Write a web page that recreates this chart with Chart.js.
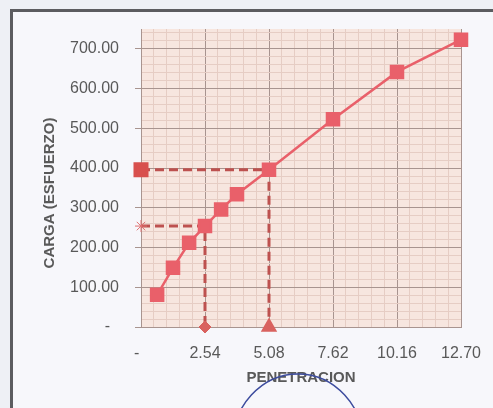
<!DOCTYPE html>
<html>
<head>
<meta charset="utf-8">
<script src="https://cdn.jsdelivr.net/npm/chart.js@4.4.0/dist/chart.umd.min.js"></script>
<style>
    html, body { margin: 0; padding: 0; background: #eef0f5; }
    #wrap { position: relative; width: 493px; height: 408px; overflow: hidden; }
    #frame { position: absolute; left: 10px; top: 9px; width: 483px; height: 399px;
             border-top: 3px solid #5c5c60; border-left: 3px solid #5c5c60; background: #f7f7fb; }
    canvas { position: absolute; left: 0; top: 0; }
</style>
</head>
<body>
<div id="wrap">
    <div id="frame"></div>
    <canvas id="chart" width="493" height="408"></canvas>
</div>
<script>
// datos
const penetracion = [0.64, 1.27, 1.91, 2.54, 3.18, 3.81, 5.08, 7.62, 10.16, 12.70];
const carga = [81, 149, 212, 254, 296, 334, 396, 523, 642, 723];

const guia01X = [0, 2.54, 2.54];
const guia01Y = [254, 254, 0];
const guia02X = [0, 5.08, 5.08];
const guia02Y = [396, 396, 0];

const xTicks = [0, 2.54, 5.08, 7.62, 10.16, 12.70];
const xTickLabels = ['-  ', '2.54', '5.08', '7.62', '10.16', '12.70'];
const yTicks = [0, 100, 200, 300, 400, 500, 600, 700];
const yTickLabels = ['-  ', '100.00', '200.00', '300.00', '400.00', '500.00', '600.00', '700.00'];

const X_MAX = 12.70, Y_MAX = 750;
const X_MINOR = 0.508, Y_MINOR = 20;

const toPts = (xs, ys) => xs.map((x, i) => ({ x, y: ys[i] }));
const isMajor = (list, v) => list.some(t => Math.abs(t - v) < 1e-6);

const MAIN = '#e9606a';
const GUIDE = '#bd514f';
const MAJOR_GRID = '#a8948f';
const MINOR_GRID = '#e6cdc4';
const TEXT = '#595959';
const FONT = "'Liberation Sans', Arial, sans-serif";

const plotBg = {
    id: 'plotBg',
    beforeDraw(chart) {
        const { ctx, chartArea: a } = chart;
        ctx.save();
        ctx.fillStyle = '#f7e6df';
        ctx.fillRect(a.left, a.top, a.right - a.left, a.bottom - a.top);
        ctx.restore();
    },
    afterDraw(chart) {
        const { ctx, chartArea: a } = chart;
        ctx.save();
        ctx.fillStyle = TEXT;
        ctx.font = 'bold 15px ' + FONT;
        ctx.textAlign = 'center';
        ctx.textBaseline = 'middle';
        ctx.fillText('PENETRACION', (a.left + a.right) / 2, 378);
        ctx.translate(50, 193);
        ctx.rotate(-Math.PI / 2);
        ctx.fillText('CARGA (ESFUERZO)', 0, 0);
        ctx.restore();
        // sello
        ctx.save();
        ctx.strokeStyle = '#3d4c9e';
        ctx.lineWidth = 1.5;
        ctx.beginPath();
        ctx.ellipse(298, 446, 66, 72, 0, Math.PI, Math.PI * 2);
        ctx.stroke();
        ctx.restore();
    }
};

new Chart(document.getElementById('chart'), {
    type: 'scatter',
    data: {
        datasets: [
            {
                data: toPts(penetracion, carga),
                showLine: true,
                borderColor: MAIN,
                backgroundColor: MAIN,
                borderWidth: 2.5,
                pointStyle: 'rect',
                pointRadius: 8.5,
                clip: false,
                order: 1
            },
            {
                data: toPts(guia01X, guia01Y),
                showLine: true,
                borderColor: GUIDE,
                backgroundColor: [GUIDE, GUIDE, '#d9625f'],
                borderWidth: 3,
                borderDash: [9, 5],
                pointStyle: ['star', 'rect', 'rectRot'],
                pointRadius: [6, 0, 6],
                pointBorderColor: ['#e07070', GUIDE, '#d9625f'],
                pointBorderWidth: 1,
                clip: false,
                order: 2
            },
            {
                data: toPts(guia02X, guia02Y),
                showLine: true,
                borderColor: GUIDE,
                backgroundColor: ['#d8504e', GUIDE, '#d9625f'],
                borderWidth: 3,
                borderDash: [9, 5],
                pointStyle: ['rect', 'rect', 'triangle'],
                pointRadius: [8.5, 0, 6.5],
                pointBorderColor: ['#d8504e', GUIDE, '#d9625f'],
                clip: false,
                order: 2
            }
        ]
    },
    options: {
        responsive: false,
        animation: false,
        layout: { autoPadding: false, padding: { top: 29, right: 32, left: 0, bottom: 0 } },
        plugins: { legend: { display: false }, tooltip: { enabled: false } },
        scales: {
            x: {
                type: 'linear',
                min: 0,
                max: X_MAX,
                afterFit: s => { s.height = 81; s.paddingLeft = 0; s.paddingRight = 0; },
                afterBuildTicks: s => {
                    const t = [];
                    for (let i = 0; i * X_MINOR <= X_MAX + 1e-6; i++) t.push({ value: +(i * X_MINOR).toFixed(3) });
                    s.ticks = t;
                },
                border: { display: true, color: MAJOR_GRID, width: 1 },
                grid: {
                    color: c => isMajor(xTicks, c.tick.value) ? MAJOR_GRID : MINOR_GRID,
                    drawTicks: false,
                    tickLength: 0
                },
                ticks: {
                    autoSkip: false,
                    maxRotation: 0,
                    padding: 17,
                    color: TEXT,
                    font: { family: FONT, size: 16 },
                    callback: v => {
                        const i = xTicks.findIndex(t => Math.abs(t - v) < 1e-6);
                        return i >= 0 ? xTickLabels[i] : '';
                    }
                }
            },
            y: {
                type: 'linear',
                min: 0,
                max: Y_MAX,
                afterFit: s => { s.width = 141; },
                afterBuildTicks: s => {
                    const t = [];
                    for (let v = 0; v <= Y_MAX; v += Y_MINOR) t.push({ value: v });
                    s.ticks = t;
                },
                border: { display: true, color: MAJOR_GRID, width: 1 },
                grid: {
                    color: c => isMajor(yTicks, c.tick.value) ? MAJOR_GRID : MINOR_GRID,
                    tickColor: c => isMajor(yTicks, c.tick.value) ? MAJOR_GRID : 'rgba(0,0,0,0)',
                    tickLength: 6
                },
                ticks: {
                    autoSkip: false,
                    padding: 16,
                    color: TEXT,
                    font: { family: FONT, size: 16 },
                    callback: v => {
                        const i = yTicks.indexOf(v);
                        return i >= 0 ? yTickLabels[i] : '';
                    }
                }
            }
        }
    },
    plugins: [plotBg]
});
</script>
</body>
</html>
